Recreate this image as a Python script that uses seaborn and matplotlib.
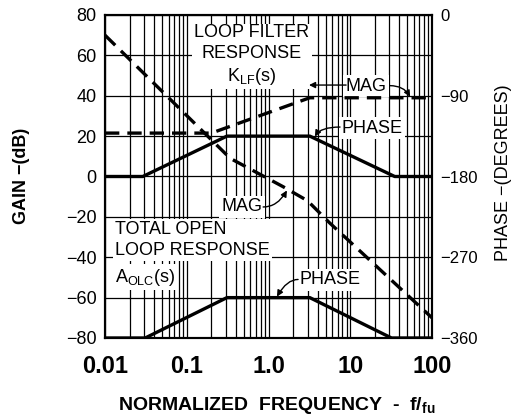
import matplotlib
matplotlib.use("Agg")
import matplotlib.pyplot as plt
import seaborn as sns
import numpy as np

# ---- data ----
lf_mag_f = [0.01, 0.2, 3.2, 100]
lf_mag_db = [21.5, 21.5, 39, 39]

lf_phase_f = [0.01, 0.029, 0.31, 3.2, 35, 100]
lf_phase_deg = [-180, -180, -135, -135, -180, -180]

tot_mag_f = [0.01, 0.18, 0.34, 1.5, 3.0, 5.6, 100]
tot_mag_db = [70, 20, 9, -5, -12, -23, -70]

tot_phase_f = [0.01, 0.031, 0.31, 3.2, 32, 100]
tot_phase_deg = [-360, -360, -315, -315, -360, -360]

x_ticks = [0.01, 0.1, 1, 10, 100]
x_ticklabels = ["0.01", "0.1", "1.0", "10", "100"]
gain_ticks = [-80, -60, -40, -20, 0, 20, 40, 60, 80]
phase_ticks = [-360, -270, -180, -90, 0]

sns.set_theme(style="white")
plt.rcParams["font.family"] = ["Liberation Sans", "DejaVu Sans"]
plt.rcParams["mathtext.fontset"] = "custom"
plt.rcParams["mathtext.rm"] = "Liberation Sans"
plt.rcParams["mathtext.bf"] = "Liberation Sans:bold"
plt.rcParams["mathtext.default"] = "regular"
plt.rcParams["text.color"] = "black"
plt.rcParams["axes.labelcolor"] = "black"
plt.rcParams["xtick.color"] = "black"
plt.rcParams["ytick.color"] = "black"

fig = plt.figure(figsize=(5.19, 4.19), dpi=100)
ax1 = fig.add_axes([105/519, 1-338/419, 327/519, 323/419])
ax2 = ax1.twinx()
ax1.set_zorder(ax2.get_zorder() + 1)
ax1.patch.set_visible(False)

LW = 2.4
DASH = (0, (4.3, 2.4))

sns.lineplot(x=lf_mag_f, y=lf_mag_db, ax=ax1, color="black", lw=LW, linestyle=DASH, zorder=5)
sns.lineplot(x=tot_mag_f, y=tot_mag_db, ax=ax1, color="black", lw=LW, linestyle=DASH, zorder=5)
sns.lineplot(x=lf_phase_f, y=lf_phase_deg, ax=ax2, color="black", lw=LW, zorder=5)
sns.lineplot(x=tot_phase_f, y=tot_phase_deg, ax=ax2, color="black", lw=LW, zorder=5)

for ax in (ax1, ax2):
    ax.set_xscale("log")
    ax.set_xlim(0.01, 100)
    ax.set_xlabel("")
    ax.set_ylabel("")
ax1.set_ylim(-80, 80)
ax2.set_ylim(-360, 0)

ax1.set_xticks(x_ticks)
ax1.set_xticklabels(x_ticklabels, fontsize=17, fontweight="bold")
ax1.set_yticks(gain_ticks)
ax1.set_yticklabels([f"{v}".replace("-", "\u2212") for v in gain_ticks], fontsize=13)
ax2.set_yticks(phase_ticks)
ax2.set_yticklabels([f"{v}".replace("-", "\u2212") for v in phase_ticks], fontsize=12)

ax1.tick_params(axis="x", which="both", length=0, pad=12, colors="black")
ax1.tick_params(axis="y", which="both", length=0, pad=6, colors="black")
ax2.tick_params(axis="y", which="both", length=0, pad=6, colors="black")

ax1.grid(True, which="both", axis="x", color="black", lw=0.9)
ax1.grid(True, which="major", axis="y", color="black", lw=0.9)
ax1.set_axisbelow(True)

for ax in (ax1, ax2):
    for s in ax.spines.values():
        s.set_color("black")
        s.set_linewidth(1.5)

box = dict(boxstyle="square,pad=0.12", fc="white", ec="none")
TS = 13

ax1.text(0.628, 60.0, "LOOP FILTER\nRESPONSE\nK$_{LF}$(s)", ha="center", va="center",
         fontsize=TS, linespacing=1.3, bbox=box, zorder=3)
ax1.text(0.0132, -31.5, "TOTAL OPEN\nLOOP RESPONSE", ha="left", va="center",
         fontsize=TS, linespacing=1.25, bbox=box, zorder=3)
ax1.text(0.0132, -49.8, "A$_{OLC}$(s)", ha="left", va="center",
         fontsize=TS, bbox=box, zorder=3)

arrow = dict(arrowstyle="-|>", color="black", lw=1.0, mutation_scale=9, shrinkA=0, shrinkB=0)

# top MAG with left arrow
ax1.text(15.6, 44.8, "MAG", ha="center", va="center", fontsize=TS, bbox=box, zorder=3)
ax1.annotate("", xy=(3.13, 45.3), xytext=(8.9, 45.3), arrowprops=arrow, zorder=4)
ax1.annotate("", xy=(54, 39.5), xytext=(30.6, 45.0),
             arrowprops=dict(arrow, connectionstyle="angle3,angleA=0,angleB=-60"), zorder=4)

# top PHASE
ax1.text(18.5, 24.0, "PHASE", ha="center", va="center", fontsize=TS, bbox=box, zorder=3)
ax1.annotate("", xy=(3.7, 19.8), xytext=(7.5, 24.5),
             arrowprops=dict(arrow, connectionstyle="angle3,angleA=180,angleB=60"), zorder=4)

# middle MAG
ax1.text(0.474, -15.1, "MAG", ha="center", va="center", fontsize=TS, bbox=box, zorder=3)
ax1.annotate("", xy=(1.68, -6.9), xytext=(0.86, -15.1),
             arrowprops=dict(arrow, connectionstyle="angle3,angleA=0,angleB=-120"), zorder=4)

# bottom PHASE
ax1.text(5.65, -51.2, "PHASE", ha="center", va="center", fontsize=TS, bbox=box, zorder=3)
ax1.annotate("", xy=(1.27, -59.5), xytext=(2.3, -51.0),
             arrowprops=dict(arrow, connectionstyle="angle3,angleA=180,angleB=60"), zorder=4)

fig.text(22/519, 1-176/419, "GAIN \u2212(dB)", rotation=90, ha="center", va="center",
         fontsize=13, fontweight="bold")
fig.text(503/519, 1-173/419, "PHASE \u2212(DEGREES)", rotation=90, ha="center", va="center",
         fontsize=13)
fig.text(277/519, 1-405/419, r"NORMALIZED  FREQUENCY  -  f/$_{\mathbf{fu}}$", ha="center",
         va="center", fontsize=14, fontweight="bold")

fig.savefig("out.png", dpi=100)
